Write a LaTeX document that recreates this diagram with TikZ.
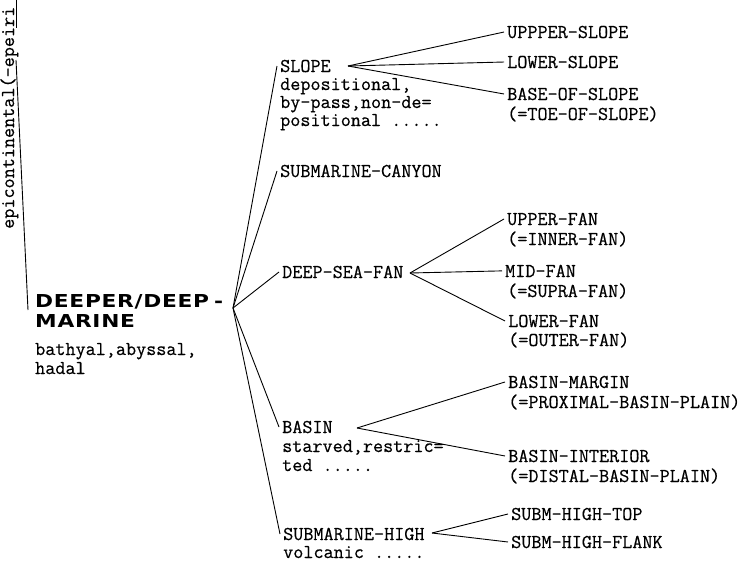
\documentclass[tikz,border=0pt]{standalone}
\usepackage{fontspec}
\newfontfamily\dsans[FakeStretch=1.22,LetterSpace=4]{DejaVu Sans}
\newfontfamily\twfont[FakeBold=0.5]{Latin Modern Mono}
\newcommand\tw{\fontsize{19.6}{19}\twfont}
\newcommand\bigb{\fontsize{17.8}{20}\dsans\bfseries}
\begin{document}
\begin{tikzpicture}[x=1pt,y=-1pt,
  lbl/.style={font=\tw, inner sep=3pt, anchor=base west},
  hd/.style={font=\bigb, inner sep=3pt, anchor=base west},
  con/.style={line width=0.9pt, black}]
\useasboundingbox (0,0) rectangle (752,565);
% left rotated fragment
\node[rotate=90, anchor=base west, inner sep=0, font=\tw] (epi) at (14,229) {epicontinental(-epeiri};
\coordinate (e1) at (16,0); \coordinate (e2) at (16,28);
\coordinate (e3) at (16,60); \coordinate (e4) at (28,310);
\draw[con] (e1) -- (e2);
\draw[con] (e3) -- (e4);
% main heading
\node[hd] (deep) at (32,307) {DEEPER/DEEP\hspace{5pt}-};
\node[hd] (deep2) at (32,327) {MARINE};
\node[lbl] (deep3) at (32,355) {bathyal,abyssal,};
\node[lbl] (deep4) at (32,374) {hadal};
\coordinate (J) at (233,308);
% first-level
\node[lbl] (slope) at (277,72) {SLOPE};
\node[lbl] (slope1) at (277,90) {depositional,};
\node[lbl] (slope2) at (277,108) {by-pass,non-de=};
\node[lbl] (slope3) at (277,126) {positional .....};
\node[lbl] (canyon) at (277,177) {SUBMARINE-CANYON};
\node[lbl] (fan) at (279,278) {DEEP-SEA-FAN};
\node[lbl] (basin) at (279,433) {BASIN};
\node[lbl] (basin1) at (279,452) {starved,restric=};
\node[lbl] (basin2) at (279,471) {ted .....};
\node[lbl] (high) at (280,540) {SUBMARINE-HIGH};
\node[lbl] (high1) at (280,558) {volcanic .....};
\foreach \n in {slope,canyon,fan,basin,high} \draw[con] (J) -- (\n.west);
% second-level
\node[lbl] (us) at (504,38) {UPPPER-SLOPE};
\node[lbl] (ls) at (504,68) {LOWER-SLOPE};
\node[lbl] (bs) at (504,100) {BASE-OF-SLOPE};
\node[lbl] (bs2) at (504,120) {(=TOE-OF-SLOPE)};
\node[lbl] (uf) at (504,225) {UPPER-FAN};
\node[lbl] (uf2) at (504,245) {(=INNER-FAN)};
\node[lbl] (mf) at (502,277) {MID-FAN};
\node[lbl] (mf2) at (504,297) {(=SUPRA-FAN)};
\node[lbl] (lf) at (505,327) {LOWER-FAN};
\node[lbl] (lf2) at (505,346) {(=OUTER-FAN)};
\node[lbl] (bm) at (505,388) {BASIN-MARGIN};
\node[lbl] (bm2) at (505,408) {(=PROXIMAL-BASIN-PLAIN)};
\node[lbl] (bi) at (505,462) {BASIN-INTERIOR};
\node[lbl] (bi2) at (505,482) {(=DISTAL-BASIN-PLAIN)};
\node[lbl] (ht) at (508,520) {SUBM-HIGH-TOP};
\node[lbl] (hf) at (508,548) {SUBM-HIGH-FLANK};
\coordinate (sv) at (348,66);
\coordinate (fv) at (410,273);
\coordinate (bv) at (357,428);
\coordinate (hv) at (432,533);
\foreach \n in {us,ls,bs} \draw[con] (sv) -- (\n.west);
\foreach \n in {uf,mf,lf} \draw[con] (fv) -- (\n.west);
\foreach \n in {bm,bi} \draw[con] (bv) -- (\n.west);
\foreach \n in {ht,hf} \draw[con] (hv) -- (\n.west);
\end{tikzpicture}
\end{document}
